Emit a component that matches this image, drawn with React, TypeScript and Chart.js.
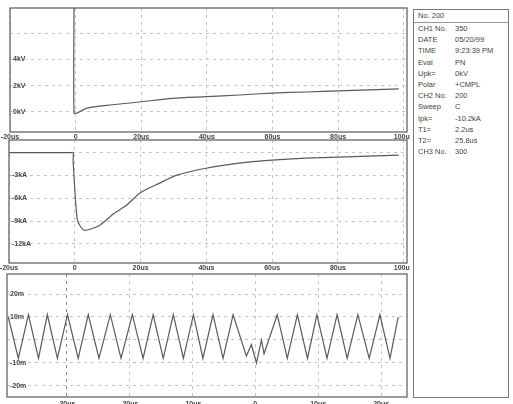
import React, { useEffect, useRef } from "react";
import { Chart, registerables } from "chart.js";
Chart.register(...registerables);

// ---- Panel 1: voltage trace ----
const voltTime = [-0.5, -0.5, 0.4, 3.4, 10.4, 19.5, 29.5, 39.9, 49.9, 59.9, 70.2, 80.3, 98.5];
const voltKV = [7.9, -0.08, -0.08, 0.3, 0.53, 0.76, 1.04, 1.16, 1.29, 1.44, 1.52, 1.6, 1.75];
const voltTicks = [0, 2, 4, 6];
const voltTickLabels = ["0kV", "2kV", "4kV", ""];

// ---- Panel 2: current trace ----
const currTime = [-20, -1.5, -0.5, -0.5, 0.8, 2.8, 7.4, 11.9, 15.6, 20.1, 25.6, 30.8, 39.9, 49.9, 59.9, 70.2, 80.3, 98.5];
const currKA = [0, 0, 0, -1.2, -8.9, -10.2, -9.6, -8.0, -6.95, -5.2, -4.04, -2.98, -2.05, -1.39, -0.99, -0.73, -0.6, -0.33];
const currTicks = [-12, -9, -6, -3, 0];
const currTickLabels = ["-12kA", "-9kA", "-6kA", "-3kA", ""];

// shared time axis of panels 1 and 2
const timeTicks = [-20, 0, 20, 40, 60, 80, 100];
const timeTickLabels = ["-20us", "0", "20us", "40us", "60us", "80us", "100us"];

// ---- Panel 3: oscillation ----
const oscTime = [-39.2, -37.6, -36.0, -34.4, -33.0, -31.4, -29.8, -28.1, -26.5, -24.8, -23.0, -21.3, -19.5, -17.8, -16.2, -14.6, -13.0, -11.4, -9.8, -8.3, -6.7, -5.1, -3.5, -1.4, -0.6, 0.2, 1.0, 1.4, 3.5, 5.1, 6.7, 8.3, 9.8, 11.4, 13.0, 14.6, 16.3, 18.1, 19.8, 21.4, 22.7];
const oscMV = [10, -8, 11, -8, 11, -8, 11, -8, 11, -8, 11, -8, 11, -8, 11, -8, 11, -8, 11, -8, 11, -8, 11, -7, -2, -10, 0, -6, 11, -8, 11, -8, 11, -8, 11, -8, 11, -8, 11, -8, 10];
const oscTicks = [-20, -10, 0, 10, 20];
const oscTickLabels = ["-20m", "-10m", "", "10m", "20m"];
const oscTimeTicks = [-30, -20, -10, 0, 10, 20];
const oscTimeTickLabels = ["-30us", "-20us", "-10us", "0", "10us", "20us"];

// ---- Info box ----
const infoHeader = "No.   200";
const infoLabels = ["CH1 No.", "DATE", "TIME", "Eval", "Upk=", "Polar", "CH2 No.", "Sweep", "Ipk=", "T1=", "T2=", "CH3 No."];
const infoValues = ["350", "05/20/99", "9:23:39 PM", "PN", "0kV", "+CMPL", "200", "C", "-10.2kA", "2.2us", "25.8us", "300"];

const tickFont = { family: "Liberation Sans", size: 7, weight: "bold" as const };

const boxPlugin = {
  id: "frameBox",
  afterDatasetsDraw(chart: any) {
    const { ctx, chartArea } = chart;
    ctx.save();
    ctx.strokeStyle = "#666";
    ctx.lineWidth = 1.3;
    ctx.strokeRect(chartArea.left, chartArea.top, chartArea.right - chartArea.left, chartArea.bottom - chartArea.top);
    ctx.restore();
  },
};

type PanelProps = {
  top: number;
  padLeft: number;
  padTop: number;
  xHeight: number;
  xPad: number;
  tension: number;
  xs: number[];
  ys: number[];
  xMin: number;
  xMax: number;
  yMin: number;
  yMax: number;
  xTicks: number[];
  xLabels: string[];
  yTicks: number[];
  yLabels: string[];
  darkX?: number;
};

function Panel(p: PanelProps) {
  const ref = useRef<HTMLCanvasElement>(null);
  useEffect(() => {
    if (!ref.current) return;
    const chart = new Chart(ref.current, {
      type: "line",
      data: {
        datasets: [
          {
            data: p.xs.map((x, i) => ({ x, y: p.ys[i] })),
            borderColor: "#5a5a5a",
            borderWidth: 1.2,
            pointRadius: 0,
            tension: p.tension,
            fill: false,
          },
        ],
      },
      options: {
        animation: false,
        responsive: false,
        maintainAspectRatio: false,
        layout: { padding: { left: p.padLeft, right: 3, top: p.padTop, bottom: 0 } },
        plugins: { legend: { display: false }, tooltip: { enabled: false } },
        scales: {
          x: {
            type: "linear",
            min: p.xMin,
            max: p.xMax,
            afterBuildTicks: (s: any) => {
              s.ticks = p.xTicks.map((v) => ({ value: v }));
            },
            afterFit: (s: any) => {
              s.height = p.xHeight;
              s.paddingLeft = 0;
              s.paddingRight = 0;
            },
            grid: {
              drawTicks: false,
              color: (c: any) => (p.darkX !== undefined && c.tick && c.tick.value === p.darkX ? "#888" : "#c4c4c4"),
              lineWidth: 1,
            },
            border: { display: false, dash: [3, 4] },
            ticks: {
              autoSkip: false,
              maxRotation: 0,
              padding: p.xPad,
              color: "#444",
              font: tickFont,
              callback: (_v: any, i: number) => p.xLabels[i],
            },
          },
          y: {
            type: "linear",
            min: p.yMin,
            max: p.yMax,
            afterBuildTicks: (s: any) => {
              s.ticks = p.yTicks.map((v) => ({ value: v }));
            },
            afterFit: (s: any) => {
              s.width = 0;
              s.paddingTop = 0;
              s.paddingBottom = 0;
            },
            grid: { drawTicks: false, color: "#c4c4c4", lineWidth: 1 },
            border: { display: false, dash: [3, 4] },
            ticks: {
              mirror: true,
              padding: 3,
              color: "#444",
              font: tickFont,
              callback: (_v: any, i: number) => p.yLabels[i],
            },
          },
        },
      },
      plugins: [boxPlugin],
    });
    return () => chart.destroy();
  }, []);
  return (
    <canvas
      ref={ref}
      width={410}
      height={142}
      style={{ position: "absolute", left: 0, top: p.top, width: 410, height: 142 }}
    />
  );
}

export default function App() {
  return (
    <div
      style={{
        position: "fixed",
        left: 0,
        top: 0,
        width: 513,
        height: 404,
        overflow: "hidden",
        background: "#fff",
        fontFamily: "Liberation Sans, Arial, sans-serif",
      }}
    >
      <Panel
        top={0}
        padLeft={10}
        padTop={8}
        xHeight={10}
        xPad={1}
        tension={0.2}
        xs={voltTime}
        ys={voltKV}
        xMin={-20}
        xMax={101}
        yMin={-1.52}
        yMax={7.9}
        xTicks={timeTicks}
        xLabels={timeTickLabels}
        yTicks={voltTicks}
        yLabels={voltTickLabels}
      />
      <Panel
        top={132}
        padLeft={9}
        padTop={8}
        xHeight={11}
        xPad={1}
        tension={0.2}
        xs={currTime}
        ys={currKA}
        xMin={-20}
        xMax={101}
        yMin={-14.5}
        yMax={1.66}
        xTicks={timeTicks}
        xLabels={timeTickLabels}
        yTicks={currTicks}
        yLabels={currTickLabels}
      />
      <Panel
        top={266}
        padLeft={7}
        padTop={8}
        xHeight={11}
        xPad={3}
        tension={0}
        xs={oscTime}
        ys={oscMV}
        xMin={-39.4}
        xMax={24.1}
        yMin={-24.8}
        yMax={28.7}
        xTicks={oscTimeTicks}
        xLabels={oscTimeTickLabels}
        yTicks={oscTicks}
        yLabels={oscTickLabels}
        darkX={-30}
      />
      <div
        style={{
          position: "absolute",
          left: 413,
          top: 9,
          width: 96,
          height: 389,
          border: "1px solid #777",
          boxSizing: "border-box",
          color: "#444",
          fontSize: 7.5,
          lineHeight: "11.2px",
        }}
      >
        <div style={{ paddingLeft: 4, borderBottom: "1px solid #999", height: 12 }}>{infoHeader}</div>
        {infoLabels.map((l, i) => (
          <div key={i} style={{ position: "relative", height: 11.2, whiteSpace: "nowrap" }}>
            <span style={{ position: "absolute", left: 4 }}>{l}</span>
            <span style={{ position: "absolute", left: 41 }}>{infoValues[i]}</span>
          </div>
        ))}
      </div>
    </div>
  );
}
